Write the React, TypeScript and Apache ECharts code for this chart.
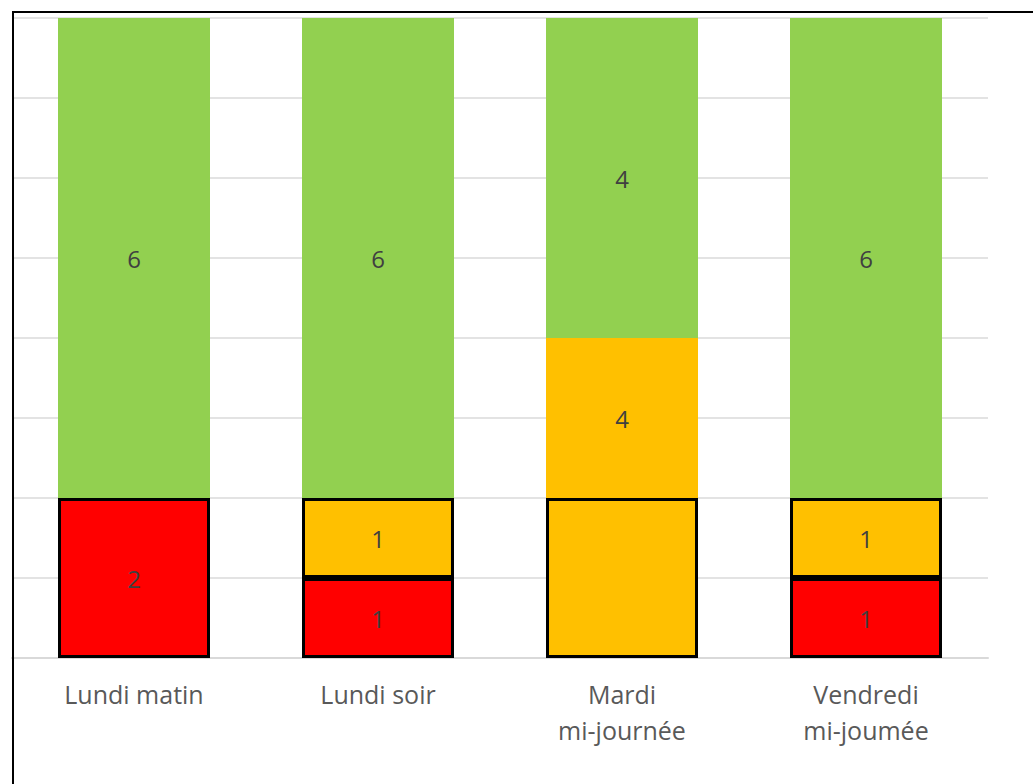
import React, { useEffect, useRef } from "react";
import * as echarts from "echarts";

const categories = ["Lundi matin", "Lundi soir", "Mardi\nmi-journée", "Vendredi\nmi-joumée"];
const redValues = [2, 1, null, 1];
const orangeBorderedValues = [null, 1, 2, 1];
const orangeValues = [null, null, 2, null];
const greenValues = [6, 6, 4, 6];

const redLabels = ["2", "1", "", "1"];
const orangeBorderedLabels = ["", "1", "", "1"];
const orangeLabels = ["", "", "4", ""];
const greenLabels = ["6", "6", "4", "6"];

const FONT = "'Open Sans', 'Liberation Sans', sans-serif";

function labelOf(arr: string[]) {
  return {
    show: true,
    position: "inside" as const,
    color: "#404040",
    fontSize: 24,
    fontFamily: FONT,
    formatter: (p: any) => arr[p.dataIndex],
  };
}

export default function App() {
  const ref = useRef<HTMLDivElement>(null);
  useEffect(() => {
    if (!ref.current) return;
    const chart = echarts.init(ref.current, null, { renderer: "svg" });
    const bordered = { borderColor: "#000000", borderWidth: 3 };
    chart.setOption({
      animation: false,
      backgroundColor: "#ffffff",
      grid: { left: 12, right: 45, top: 18, bottom: 126, containLabel: false },
      xAxis: {
        type: "category",
        data: categories,
        axisLine: { show: true, lineStyle: { color: "#D9D9D9", width: 2 } },
        axisTick: { show: false },
        axisLabel: {
          color: "#595959",
          fontSize: 25,
          fontFamily: FONT,
          lineHeight: 36,
          margin: 18,
          interval: 0,
        },
      },
      yAxis: {
        type: "value",
        min: 0,
        max: 8,
        interval: 1,
        axisLabel: { show: false },
        axisLine: { show: false },
        axisTick: { show: false },
        splitLine: { lineStyle: { color: "#E3E3E3", width: 2 } },
      },
      series: [
        {
          name: "rouge",
          type: "bar",
          stack: "total",
          barWidth: 152,
          data: redValues,
          itemStyle: { color: "#FF0000", ...bordered },
          label: labelOf(redLabels),
        },
        {
          name: "orange bordé",
          type: "bar",
          stack: "total",
          barWidth: 152,
          data: orangeBorderedValues,
          itemStyle: { color: "#FFC000", ...bordered },
          label: labelOf(orangeBorderedLabels),
        },
        {
          name: "orange",
          type: "bar",
          stack: "total",
          barWidth: 152,
          data: orangeValues,
          itemStyle: { color: "#FFC000" },
          label: labelOf(orangeLabels),
        },
        {
          name: "vert",
          type: "bar",
          stack: "total",
          barWidth: 152,
          data: greenValues,
          itemStyle: { color: "#92D050" },
          label: labelOf(greenLabels),
        },
      ],
      graphic: [
        {
          type: "rect",
          silent: true,
          z: 100,
          shape: { x: 13, y: 12, width: 1200, height: 1000 },
          style: { fill: "none", stroke: "#000000", lineWidth: 2 },
        },
      ],
    });
    return () => chart.dispose();
  }, []);
  return (
    <div
      ref={ref}
      style={{ position: "absolute", left: 0, top: 0, width: 1033, height: 784 }}
    />
  );
}
